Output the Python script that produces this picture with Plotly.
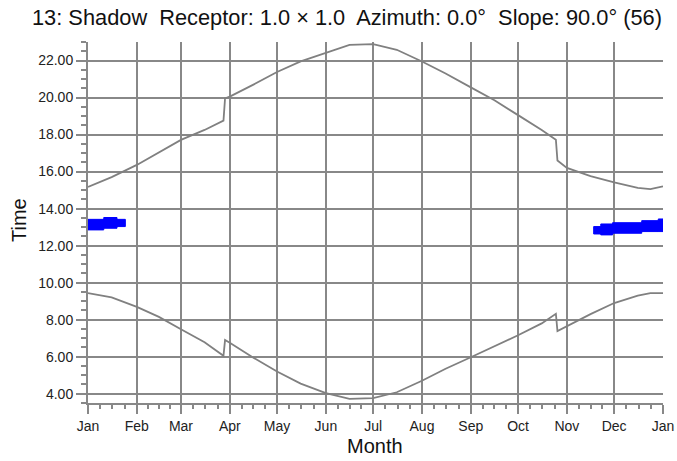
import plotly.graph_objects as go

# ---- data ----
month_labels = ["Jan", "Feb", "Mar", "Apr", "May", "Jun", "Jul", "Aug", "Sep", "Oct", "Nov", "Dec", "Jan"]
month_start_day = [0, 31, 59, 90, 120, 151, 181, 212, 243, 273, 304, 334, 365]

y_tick_values = [4, 6, 8, 10, 12, 14, 16, 18, 20, 22]

upper_day = [0, 15, 31, 45, 59, 74, 86, 87, 90, 105, 120, 135, 151, 166, 181, 196,
             212, 227, 243, 258, 273, 288, 297, 298, 304, 319, 334, 349, 357, 365]
upper_time = [15.17, 15.7, 16.36, 17.05, 17.71, 18.25, 18.75, 19.95, 20.05, 20.7, 21.38, 21.95,
              22.43, 22.85, 22.88, 22.58, 21.95, 21.3, 20.55, 19.85, 19.05, 18.25, 17.72,
              16.6, 16.2, 15.75, 15.42, 15.12, 15.05, 15.2]

lower_day = [0, 15, 31, 45, 59, 74, 86, 87, 90, 105, 120, 135, 151, 166, 181, 196,
             212, 227, 243, 258, 273, 288, 297, 298, 304, 319, 334, 349, 357, 365]
lower_time = [9.44, 9.2, 8.69, 8.15, 7.48, 6.78, 6.05, 6.9, 6.75, 5.95, 5.2, 4.55,
              4.03, 3.72, 3.76, 4.08, 4.7, 5.35, 5.97, 6.55, 7.16, 7.8, 8.32,
              7.38, 7.65, 8.3, 8.9, 9.3, 9.44, 9.44]

# shadow periods (day range, start time, end time)
shadow_from_day = [0, 10, 18.4, 321, 325.5, 333, 351.5, 362]
shadow_to_day = [10, 18.4, 23.7, 325.5, 333, 351.5, 362, 365]
shadow_start = [12.85, 12.94, 13.03, 12.63, 12.58, 12.67, 12.76, 12.76]
shadow_end = [13.42, 13.52, 13.42, 13.03, 13.17, 13.24, 13.35, 13.44]

title_text = "13: Shadow  Receptor: 1.0 \u00d7 1.0  Azimuth: 0.0\u00b0  Slope: 90.0\u00b0 (56)"
x_title = "Month"
y_title = "Time"

# ---- figure ----
FONT = "Liberation Sans, Arial, sans-serif"
GRID = "#888888"
CURVE = "#808080"
L, R, T, B, W, H = 88, 14, 42, 58, 677, 461
PW, PH = W - L - R, H - T - B

fig = go.Figure()

fig.add_trace(go.Scatter(x=upper_day, y=upper_time, mode="lines",
                         line=dict(color=CURVE, width=1.8), hoverinfo="skip"))
fig.add_trace(go.Scatter(x=lower_day, y=lower_time, mode="lines",
                         line=dict(color=CURVE, width=1.8), hoverinfo="skip"))

xs, ys = [], []
for d0, d1, s, e in zip(shadow_from_day, shadow_to_day, shadow_start, shadow_end):
    xs += [d0, d1, d1, d0, d0, None]
    ys += [s, s, e, e, s, None]
fig.add_trace(go.Scatter(x=xs, y=ys, mode="lines", fill="toself",
                         fillcolor="#0000FF", line=dict(color="#0000FF", width=1),
                         hoverinfo="skip"))

# minor x ticks at quarter months
minor_x = []
for a, b in zip(month_start_day[:-1], month_start_day[1:]):
    for k in (1, 2, 3):
        minor_x.append(a + (b - a) * k / 4)

fig.update_layout(
    width=W, height=H,
    margin=dict(l=L, r=R, t=T, b=B),
    paper_bgcolor="white", plot_bgcolor="white",
    showlegend=False,
    font=dict(family=FONT, color="#1a1a1a", size=14),
    title=dict(text=title_text, x=32 / W, xanchor="left", xref="container",
               y=1 - 17 / H, yanchor="middle", yref="container",
               font=dict(family=FONT, size=21.8, color="#111111")),
    xaxis=dict(
        range=[0, 365], tickmode="array", tickvals=month_start_day, ticktext=month_labels,
        showgrid=True, gridcolor=GRID, gridwidth=2,
        showline=True, linecolor=GRID, linewidth=2,
        ticks="outside", ticklen=9, tickcolor=GRID, tickwidth=2,
        minor=dict(tickmode="array", tickvals=minor_x, ticks="outside", ticklen=4,
                   tickcolor=GRID, tickwidth=1.5, showgrid=False),
        zeroline=False, automargin=False,
        tickfont=dict(family=FONT, size=14, color="#222222"),
    ),
    yaxis=dict(
        range=[3.5, 23.0], tickmode="array", tickvals=y_tick_values, tickformat=".2f",
        showgrid=True, gridcolor=GRID, gridwidth=2,
        showline=True, linecolor=GRID, linewidth=2,
        ticks="outside", ticklen=10, tickcolor=GRID, tickwidth=2,
        minor=dict(tick0=0, dtick=0.5, ticks="outside", ticklen=5,
                   tickcolor=GRID, tickwidth=1.5, showgrid=False),
        zeroline=False, automargin=False,
        tickfont=dict(family=FONT, size=14, color="#222222"),
    ),
    annotations=[
        dict(text=x_title, xref="paper", yref="paper",
             x=(375 - L) / PW, y=-(446 - (T + PH)) / PH,
             xanchor="center", yanchor="middle", showarrow=False,
             font=dict(family=FONT, size=20, color="#111111")),
        dict(text=y_title, xref="paper", yref="paper",
             x=-(L - 19) / PW, y=1 - (220 - T) / PH,
             xanchor="center", yanchor="middle", textangle=-90, showarrow=False,
             font=dict(family=FONT, size=20, color="#111111")),
    ],
)

fig.write_html("out.html", config={"displayModeBar": False},
               post_script="document.body.style.margin='0px';document.body.style.overflow='hidden';")
